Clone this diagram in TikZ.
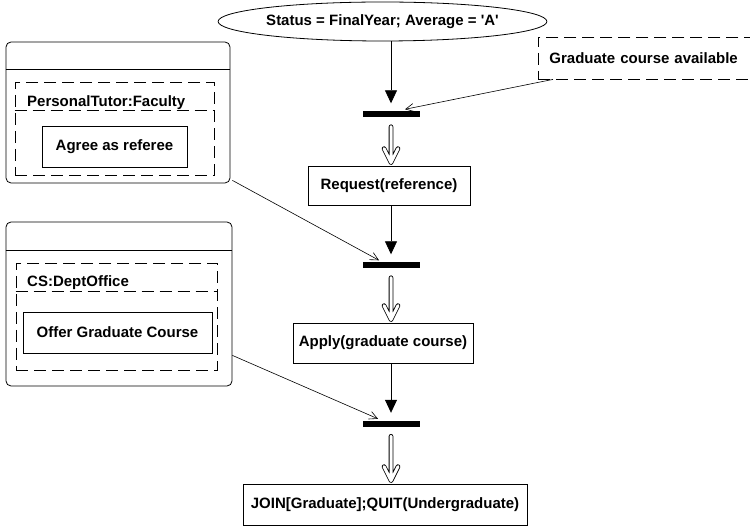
\documentclass[tikz,border=0pt]{standalone}
\usepackage{fontspec}
\setmainfont{Liberation Sans}
\usetikzlibrary{arrows.meta,shapes.geometric,calc}
\begin{document}
\begin{tikzpicture}[x=1pt,y=-1pt,
  every node/.style={font=\fontsize{15}{17}\selectfont\bfseries, inner sep=0pt},
  act/.style={draw, line width=0.8pt},
  bar/.style={fill=black, minimum width=57pt, minimum height=6pt},
  lane/.style={draw, line width=0.8pt, dash pattern=on 12pt off 6pt},
  swim/.style={draw, line width=0.8pt, rounded corners=5pt},
  flow/.style={line width=0.8pt, shorten >=8pt, -{Triangle[length=13pt,width=12pt]}},
  dbl/.style={line width=0.8pt, double, double distance=3pt, line cap=round, line join=round},
  dep/.style={line width=0.6pt, -{Straight Barb[length=8pt,width=8pt]}}
]
\clip (0,0) rectangle (750,526);

% guard condition
\node[ellipse, draw, line width=0.8pt, minimum width=253pt, minimum height=39pt]
  (cond) at (382.5,21.5) {Status = FinalYear; Average = \textquotesingle A\textquotesingle};

% main activity flow
\node[bar] (b1) at (391,114.5) {};
\node[act, minimum width=162pt, minimum height=39pt] (req) at (389,185.5) {Request(reference)};
\node[bar] (b2) at (391,265.5) {};
\node[act, minimum width=180pt, minimum height=40pt] (apply) at (383,343) {Apply(graduate course)};
\node[bar] (b3) at (391,424) {};
\node[act, minimum width=284pt, minimum height=41pt] (join) at (385,504.5) {JOIN[Graduate];QUIT(Undergraduate)};

% event note
\node[lane, anchor=west, minimum height=42pt, text width=210pt, inner xsep=11pt, align=left]
  (grad) at (538,58) {Graduate course available};

% personal tutor swimlane
\node[swim, minimum width=224pt, minimum height=141pt] (tutor) at (118,112.5) {};
\draw[line width=0.8pt] ([yshift=-28pt]tutor.north west) -- ([yshift=-28pt]tutor.north east);
\node[lane, minimum width=199pt, minimum height=93pt] (tlane) at (114.5,128.5) {};
\draw[lane] ([yshift=-29pt]tlane.north west) -- ([yshift=-29pt]tlane.north east);
\node[anchor=base west] (tlabel) at (27,106.5) {PersonalTutor:Faculty};
\node[act, minimum width=145pt, minimum height=41pt] (agree) at (114.5,146.5) {Agree as referee};

% department office swimlane
\node[swim, minimum width=226pt, minimum height=164pt] (office) at (119,304) {};
\draw[line width=0.8pt] ([yshift=-29pt]office.north west) -- ([yshift=-29pt]office.north east);
\node[lane, minimum width=201pt, minimum height=107pt] (olane) at (116.5,316.5) {};
\draw[lane] ([yshift=-29pt]olane.north west) -- ([yshift=-29pt]olane.north east);
\node[anchor=base west] (olabel) at (27,286.5) {CS:DeptOffice};
\node[act, minimum width=189pt, minimum height=41pt] (offer) at (117.5,332.5) {Offer Graduate Course};

% control flow into the join bars
\draw[flow] (cond.south -| b1) -- (b1.north);
\draw[flow] (req.south -| b2) -- (b2.north);
\draw[flow] (apply.south -| b3) -- (b3.north);

% hollow transition arrows out of the join bars
\draw[dbl] ($(b1.south)+(0,9)$) -- ($(req.north -| b1)+(0,-3)$) -- +(-7,-14)
           ($(req.north -| b1)+(0,-3)$) -- +(7,-14);
\draw[dbl] ($(b2.south)+(0,9)$) -- ($(apply.north -| b2)+(0,-3)$) -- +(-7,-14)
           ($(apply.north -| b2)+(0,-3)$) -- +(7,-14);
\draw[dbl] ($(b3.south)+(0,9)$) -- ($(join.north -| b3)+(0,-3)$) -- +(-7,-14)
           ($(join.north -| b3)+(0,-3)$) -- +(7,-14);

% dependencies
\draw[dep] ([xshift=15pt]grad.south west) -- ([xshift=14pt,yshift=2pt]b1.north);
\draw[dep] ([xshift=2pt,yshift=3pt]tutor.south east) -- ([xshift=-12pt,yshift=2pt]b2.north);
\draw[dep] ([yshift=31pt]office.south east) -- ([xshift=-13pt,yshift=2pt]b3.north);
\end{tikzpicture}
\end{document}
